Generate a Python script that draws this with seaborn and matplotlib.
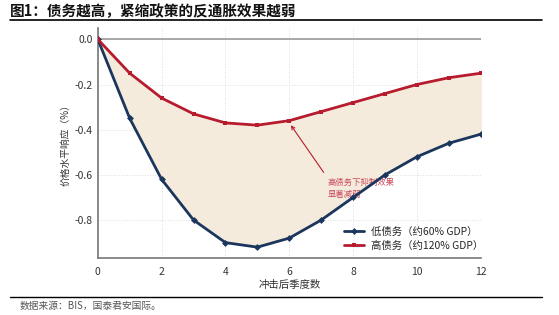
import matplotlib
matplotlib.use('Agg')
import matplotlib.pyplot as plt
import seaborn as sns
import pandas as pd
from matplotlib.lines import Line2D

sns.set_style("white")
plt.rcParams['font.family'] = ['Noto Sans CJK SC', 'DejaVu Sans']
plt.rcParams['axes.unicode_minus'] = False

quarters = list(range(13))
low_debt = [0, -0.35, -0.62, -0.80, -0.90, -0.92, -0.88, -0.80, -0.70, -0.60, -0.52, -0.46, -0.42]
high_debt = [0, -0.15, -0.26, -0.33, -0.37, -0.38, -0.36, -0.32, -0.28, -0.24, -0.20, -0.17, -0.15]
low_label = '低债务（约60% GDP）'
high_label = '高债务（约120% GDP）'

df = pd.DataFrame({'q': quarters, low_label: low_debt, high_label: high_debt})
long = df.melt(id_vars='q', var_name='组别', value_name='响应')

navy = '#1B365D'
red = '#B71C2E'

fig = plt.figure(figsize=(5.59, 3.15), dpi=100, facecolor='white')
ax = fig.add_axes([0.175, 0.181, 0.685, 0.73])

ax.fill_between(quarters, low_debt, high_debt, color='#F5EBDD', zorder=1)
ax.axhline(0, color='#999999', lw=1.2, zorder=2)

sns.lineplot(data=long, x='q', y='响应', hue='组别', style='组别',
             palette=[navy, red], markers=['D', 's'], dashes=False,
             markersize=3.5, markeredgewidth=0, linewidth=2, ax=ax, zorder=3,
             legend=False)

ax.set_xlim(0, 12)
ax.set_ylim(-0.968, 0.05)
ax.set_xticks([0, 2, 4, 6, 8, 10, 12])
ax.set_yticks([0.0, -0.2, -0.4, -0.6, -0.8])
ax.set_yticklabels(['0.0', '-0.2', '-0.4', '-0.6', '-0.8'])
ax.tick_params(labelsize=7.5, colors='#333333', length=3, width=1, direction='out')
ax.tick_params(axis='y', length=0)
ax.grid(True, color='#DDDDDD', linestyle=':', linewidth=0.7)
for s in ['top', 'right']:
    ax.spines[s].set_visible(False)
for s in ['left', 'bottom']:
    ax.spines[s].set_color('#777777')
    ax.spines[s].set_linewidth(1.2)

ax.set_xlabel('冲击后季度数', fontsize=7.5, color='#333333', labelpad=2)
ax.set_ylabel('价格水平响应（%）', fontsize=7, color='#333333', labelpad=3)

ax.annotate('高债务下抑制效果\n显著减弱', xy=(6.0, -0.37), xytext=(7.2, -0.66),
            fontsize=6, color='#C8475A', ha='left', va='center', linespacing=1.4,
            arrowprops=dict(arrowstyle='->', color='#B71C2E', lw=0.8,
                            relpos=(0.0, 1.0)), zorder=2)

handles = [Line2D([], [], color=navy, lw=2, marker='D', markersize=3.5, markeredgewidth=0),
           Line2D([], [], color=red, lw=2, marker='s', markersize=3.5, markeredgewidth=0)]
ax.legend(handles, [low_label, high_label], loc='lower right', frameon=False,
          fontsize=7.5, bbox_to_anchor=(1.03, -0.01), handlelength=2.0,
          handletextpad=0.6, labelspacing=0.35)

fig.text(0.018, 0.965, '图1：债务越高，紧缩政策的反通胀效果越弱', fontsize=10.5,
         fontweight='bold', color='#111111', va='center')
fig.add_artist(Line2D([0.018, 0.97], [0.935, 0.935], color='black', lw=1.2))
fig.add_artist(Line2D([0.018, 0.97], [0.057, 0.057], color='black', lw=1.0))
fig.text(0.035, 0.03, '数据来源：BIS，国泰君安国际。', fontsize=7, style='italic',
         color='#555555', va='center')

fig.savefig('out.png', dpi=100, facecolor='white')
plt.close(fig)
